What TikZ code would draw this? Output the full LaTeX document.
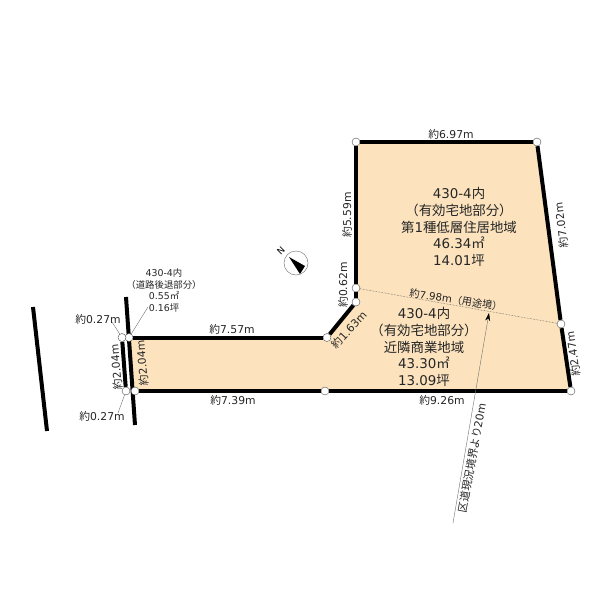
\documentclass[tikz,border=0pt]{standalone}
\usepackage{fontspec}
\setmainfont{DejaVu Sans}
\newfontfamily\cjk{Noto Sans CJK JP}
\usetikzlibrary{arrows.meta,backgrounds}
\newcommand{\yaku}{{\cjk 約}}
\definecolor{lotfill}{HTML}{FCE3BE}
\definecolor{leadgray}{HTML}{707070}
\tikzset{
  pt/.style = {draw=black!70, line width=0.4pt, fill=white, circle, inner sep=0pt, minimum size=8pt},
  edge/.style = {line width=4pt, black},
  len/.style = {font=\fontsize{10.8}{12}\selectfont, inner sep=0pt, text=black!85},
  area/.style = {font=\fontsize{13.4}{16.7}\selectfont, align=center, inner sep=0pt, text=black!85},
  small/.style = {font=\fontsize{9.4}{11.6}\selectfont, align=center, inner sep=0pt, text=black!85},
  lead/.style = {line width=0.4pt, leadgray}
}
\begin{document}
\begin{tikzpicture}[x=1pt, y=-1pt]
\useasboundingbox (0,0) rectangle (600,600);
% corners of the lot
\node[pt] (tl) at (356,142) {};
\node[pt] (tr) at (537,142) {};
\node[pt] (rm) at (561,324) {};
\node[pt] (br) at (571,391) {};
\node[pt] (bm) at (325,391) {};
\node[pt] (bl) at (135,391) {};
\node[pt] (sl) at (129,337.5) {};
\node[pt] (nt) at (327,337.5) {};
\node[pt] (nb) at (356,302) {};
\node[pt] (ln) at (356,288) {};
% set back strip
\node[pt] (rt) at (122,337.5) {};
\node[pt] (rb) at (126,391) {};
\coordinate (wt) at (126,297);
\coordinate (wb) at (135,425);
\coordinate (ft) at (33,307);
\coordinate (fb) at (47,431);
\begin{scope}[on background layer]
\fill[lotfill] (tl.center) -- (tr.center) -- (br.center) -- (bl.center) -- (sl.center) -- (nt.center) -- (nb.center) -- (ln.center) -- cycle;
\draw[edge] (tl) -- (tr);
\draw[edge] (tr) -- (rm);
\draw[edge] (rm) -- (br);
\draw[edge] (br) -- (bm);
\draw[edge] (bm) -- (bl);
\draw[edge] (sl) -- (nt);
\draw[edge] (nt) -- (nb);
\draw[edge] (ln) -- (tl);
\draw[edge] (nb) -- (ln);
\draw[edge] (rt) -- (rb);
\draw[edge] (wt) -- (wb);
\draw[edge] (ft) -- (fb);
\draw[line width=0.5pt, densely dotted, black!70] (ln) -- (rm);
\end{scope}
% lengths
\node[len] (l1) at (451,134) {\yaku 6.97m};
\node[len, rotate=90] (l2) at (347,215) {\yaku 5.59m};
\node[len, rotate=90] (l3) at (343,285) {\yaku 0.62m};
\node[len, rotate=47] (l4) at (349,330) {\yaku 1.63m};
\node[len, rotate=97] (l5) at (561,225) {\yaku 7.02m};
\node[len, rotate=98] (l6) at (573,354) {\yaku 2.47m};
\node[len] (l7) at (232,329) {\yaku 7.57m};
\node[len] (l8) at (233,400) {\yaku 7.39m};
\node[len] (l9) at (442,400) {\yaku 9.26m};
\node[len, rotate=95] (l10) at (116,367) {\yaku 2.04m};
\node[len, rotate=95] (l11) at (142,363) {\yaku 2.04m};
\node[len] (l12) at (98,319) {\yaku 0.27m};
\node[len] (l13) at (102,416) {\yaku 0.27m};
\node[len, rotate=-9, font=\fontsize{10.2}{11}\selectfont] (l14) at (456,300) {\yaku 7.98m{\cjk（用途境）}};
% areas
\node[area] (a1) at (459,227) {430-4{\cjk 内}\\{\cjk（有効宅地部分）}\\{\cjk 第}1{\cjk 種低層住居地域}\\46.34{\cjk ㎡}\\14.01{\cjk 坪}};
\node[area] (a2) at (424,347) {430-4{\cjk 内}\\{\cjk（有効宅地部分）}\\{\cjk 近隣商業地域}\\43.30{\cjk ㎡}\\13.09{\cjk 坪}};
\node[small] (a3) at (164,290.5) {430-4{\cjk 内}\\{\cjk（道路後退部分）}\\0.55{\cjk ㎡}\\0.16{\cjk 坪}};
% leaders
\coordinate (q1) at (112,322);
\coordinate (q2) at (118,413);
\coordinate (q3) at (148,307);
\draw[lead] (q1) -- (rt);
\draw[lead] (q2) -- (rb);
\draw[lead] (q3) -- (sl);
% boundary arrow
\coordinate (ae) at (453,523);
\coordinate (at) at (489,313);
\draw[lead, -{Stealth[length=8pt, width=5pt, black]}] (ae) -- (at);
\node[len, rotate=79.5] (l15) at (472,458) {{\cjk 区道現況境界より}20m};
% north mark
\node[draw=black!50, line width=0.5pt, circle, minimum size=24pt, inner sep=0pt] (comp) at (296,263) {};
\fill[black] (289,257) -- (305,266) -- (300,274) -- cycle;
\node[font=\fontsize{9}{10}\selectfont, inner sep=0pt, rotate=45] (nm) at (281,251) {N};
\end{tikzpicture}
\end{document}
